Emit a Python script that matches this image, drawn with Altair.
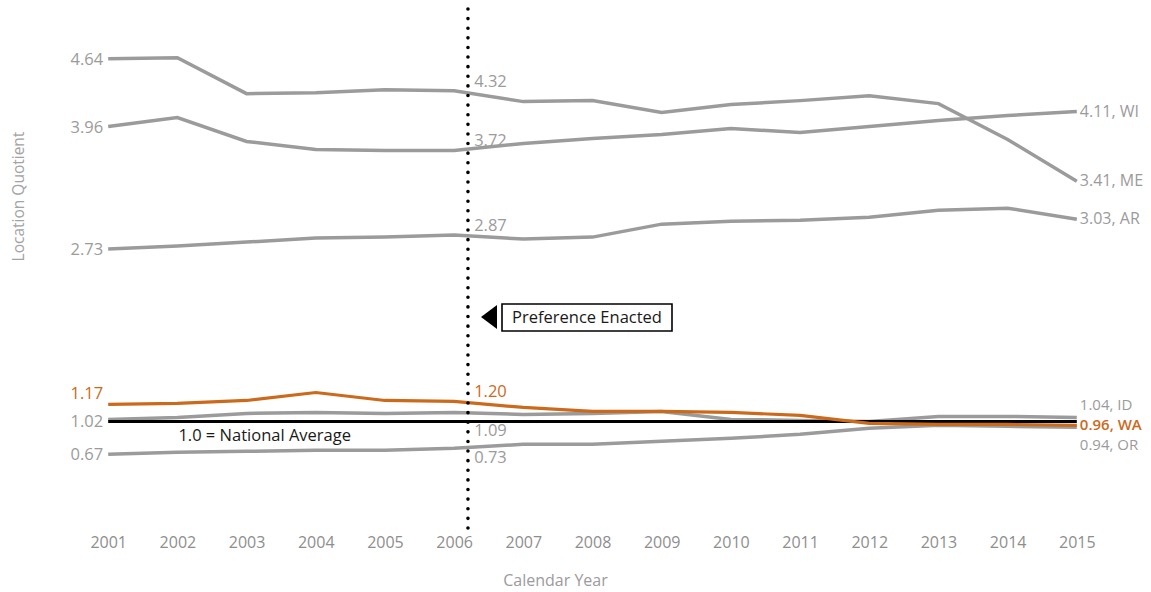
import altair as alt
import pandas as pd

# Location quotient by state, 2001-2015
years = list(range(2001, 2016))
states = ["ME", "WI", "AR", "ID", "OR", "WA"]
lq_me = [4.64, 4.65, 4.29, 4.30, 4.33, 4.32, 4.21, 4.22, 4.10, 4.18, 4.22, 4.27, 4.19, 3.83, 3.41]
lq_wi = [3.96, 4.05, 3.81, 3.73, 3.72, 3.72, 3.79, 3.84, 3.88, 3.94, 3.90, 3.96, 4.02, 4.07, 4.11]
lq_ar = [2.73, 2.76, 2.80, 2.84, 2.85, 2.87, 2.83, 2.85, 2.98, 3.01, 3.02, 3.05, 3.12, 3.14, 3.03]
lq_id = [1.02, 1.04, 1.08, 1.09, 1.08, 1.09, 1.07, 1.08, 1.10, 1.02, 1.01, 1.00, 1.05, 1.05, 1.04]
lq_or = [0.67, 0.69, 0.70, 0.71, 0.71, 0.73, 0.77, 0.77, 0.80, 0.83, 0.87, 0.93, 0.96, 0.95, 0.94]
lq_wa = [1.17, 1.18, 1.21, 1.29, 1.21, 1.20, 1.14, 1.10, 1.10, 1.09, 1.06, 0.98, 0.97, 0.97, 0.96]
series = [lq_me, lq_wi, lq_ar, lq_id, lq_or, lq_wa]

enacted_year = 2006.2
national_average = 1.0
mid_year = 2006

GRAY = "#9b9b9b"
ORANGE = "#cc6a1c"
FONT = "Open Sans"

highlight = {"WA"}
# where each series puts its start / middle / end value labels
left_pos = {"ME": "left", "WI": "left", "AR": "left", "ID": "left_low", "OR": "left", "WA": "left_up"}
mid_pos = {"ME": "mid_up", "WI": "mid_up", "AR": "mid_up", "ID": "mid_below", "OR": "mid_under", "WA": "mid_up"}
end_pos = {"ME": "end", "WI": "end", "AR": "end", "ID": "end_up", "OR": "end_down", "WA": "end_bold"}
# placement: align, dx, dy, font size, weight
placements = {
    "left": ("right", -5, 1, 16.5, 400),
    "left_low": ("right", -5, 3, 16.5, 400),
    "left_up": ("right", -5, -10, 16.5, 400),
    "mid_up": ("left", 20, -9, 16.5, 400),
    "mid_below": ("left", 20, 19, 16.5, 400),
    "mid_under": ("left", 20, 10, 16.5, 400),
    "end": ("left", 3, 0, 16, 400),
    "end_bold": ("left", 3, 0, 15, 600),
    "end_up": ("left", 3, -12, 15, 400),
    "end_down": ("left", 3, 18, 15, 400),
}

rows = []
for st, vals in zip(states, series):
    for yr, v in zip(years, vals):
        rows.append({"state": st, "year": yr, "lq": v})
df = pd.DataFrame(rows)

lab_rows = []
for st, vals in zip(states, series):
    col = ORANGE if st in highlight else GRAY
    lab_rows.append({"year": years[0], "lq": vals[0], "text": f"{vals[0]:.2f}", "pos": left_pos[st], "color": col})
    mv = vals[years.index(mid_year)]
    lab_rows.append({"year": mid_year, "lq": mv, "text": f"{mv:.2f}", "pos": mid_pos[st], "color": col})
    lab_rows.append({"year": years[-1], "lq": vals[-1], "text": f"{vals[-1]:.2f}, {st}", "pos": end_pos[st], "color": col})
labels = pd.DataFrame(lab_rows)

x_enc = alt.X(
    "year:Q",
    scale=alt.Scale(domain=[2000, 2016], nice=False, zero=False),
    axis=alt.Axis(
        values=years, format="d", title="Calendar Year", domain=False, ticks=False, grid=False,
        labelPadding=13, labelFontSize=16, labelColor="#8e8e8e", labelFont=FONT,
        titleFontSize=16, titleColor="#9b9b9b", titleFont=FONT, titleFontWeight="normal",
        titleX=516, titleY=59, titleBaseline="middle", titleAnchor="start", titleAlign="center",
    ),
)
y_enc = alt.Y(
    "lq:Q",
    scale=alt.Scale(domain=[0, 5.2], nice=False),
    axis=alt.Axis(
        labels=False, ticks=False, domain=False, grid=False, title="Location Quotient",
        titleFontSize=15.5, titleColor="#a3a3a3", titleFont=FONT, titleFontWeight="normal",
        titleX=-21, titleY=193, titleAngle=270, titleAlign="center", titleBaseline="middle",
    ),
)

base = alt.Chart(df)
gray_lines = base.mark_line(color=GRAY, strokeWidth=3.5).encode(
    x=x_enc, y=y_enc, detail="state:N"
).transform_filter(alt.FieldOneOfPredicate(field="state", oneOf=[s for s in states if s not in highlight]))

avg_df = pd.DataFrame({"year": [years[0]], "year2": [years[-1]], "lq": [national_average]})
avg_rule = alt.Chart(avg_df).mark_rule(color="black", strokeWidth=3).encode(
    x="year:Q", x2="year2:Q", y="lq:Q"
)
avg_text = alt.Chart(pd.DataFrame({"year": [2002], "lq": [national_average], "t": ["1.0 = National Average"]})).mark_text(
    align="left", baseline="middle", dx=1, dy=15, fontSize=16.5, font=FONT, color="#1a1a1a"
).encode(x="year:Q", y="lq:Q", text="t:N")

orange_line = base.mark_line(color=ORANGE, strokeWidth=3.2).encode(
    x="year:Q", y="lq:Q", detail="state:N"
).transform_filter(alt.FieldOneOfPredicate(field="state", oneOf=sorted(highlight)))

enacted = alt.Chart(pd.DataFrame({"year": [enacted_year]})).mark_rule(
    color="black", strokeWidth=3.6, strokeDash=[0.01, 9.6], strokeCap="round"
).encode(x="year:Q", y=alt.value(6), y2=alt.value(531))

arrow = alt.Chart(pd.DataFrame({"k": [0]})).mark_point(
    shape="M 1 -1.5 L -1 0 L 1 1.5 Z", filled=True, color="black", opacity=1, size=256
).encode(x=alt.value(450), y=alt.value(314))
box = alt.Chart(pd.DataFrame({"k": [0]})).mark_rect(
    fill="white", stroke="black", strokeWidth=1.6
).encode(x=alt.value(463), x2=alt.value(633), y=alt.value(301), y2=alt.value(328))
box_text = alt.Chart(pd.DataFrame({"t": ["Preference Enacted"]})).mark_text(
    align="center", baseline="middle", fontSize=16.5, font=FONT, color="#1a1a1a"
).encode(x=alt.value(548), y=alt.value(314.5), text="t:N")

text_layers = []
for key, (align, dx, dy, fs, wt) in placements.items():
    text_layers.append(
        alt.Chart(labels).mark_text(
            align=align, baseline="middle", dx=dx, dy=dy, fontSize=fs, font=FONT, fontWeight=wt
        ).encode(
            x="year:Q", y="lq:Q", text="text:N",
            color=alt.Color("color:N", scale=None),
        ).transform_filter(alt.datum.pos == key)
    )

chart = alt.layer(
    gray_lines, avg_rule, orange_line, enacted, avg_text, arrow, box, box_text, *text_layers
).properties(
    width=1107, height=518,
    autosize=alt.AutoSizeParams(type="none"),
    padding={"left": 39, "top": 3, "right": 5, "bottom": 71},
    background="white",
).configure_view(stroke=None)

chart.save("out.html", embed_options={"renderer": "svg", "actions": False})
